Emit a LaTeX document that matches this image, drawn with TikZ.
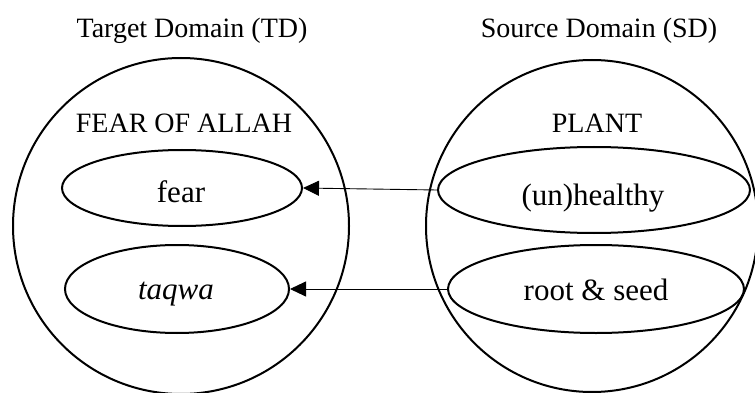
\documentclass[tikz,border=0pt]{standalone}
\usepackage{fontspec}
\setmainfont{Liberation Serif}
\usetikzlibrary{arrows.meta,shapes.geometric}
\begin{document}
\begin{tikzpicture}[x=1pt,y=-1pt,
  txt/.style={font=\fontsize{28}{33}\selectfont,anchor=base,inner sep=0pt},
  ctxt/.style={font=\fontsize{31}{36}\selectfont,anchor=base,inner sep=0pt},
  domcircle/.style={circle,draw,line width=2pt,inner sep=0pt},
  concept/.style={ellipse,draw,line width=2pt,inner sep=0pt},
  mapping/.style={line width=0.9pt,-{Triangle[length=16pt,width=15pt]}}]
\useasboundingbox (0,0) rectangle (755,393);
\clip (0,0) rectangle (755,393);
\fill[white] (0,0) rectangle (755,393);
\node[domcircle,minimum size=336pt] (td) at (181,226) {};
\node[domcircle,minimum size=332pt] (sd) at (592,226) {};
\node[txt] (tdl) at (192,38) {Target Domain (TD)};
\node[txt] (sdl) at (599,38) {Source Domain (SD)};
\node[txt] (fa) at (184,133) {FEAR OF ALLAH};
\node[txt] (pl) at (597,133) {PLANT};
\node[concept,minimum width=240pt,minimum height=76pt] (fear) at (182,188) {};
\node[concept,minimum width=224pt,minimum height=88pt] (taqwa) at (177,289) {};
\node[concept,minimum width=312pt,minimum height=86pt] (health) at (594,190) {};
\node[concept,minimum width=296pt,minimum height=88pt] (root) at (596,289) {};
\node[ctxt] (fearT) at (181,202) {fear};
\node[ctxt] (taqwaT) at (176,299) {\itshape taqwa};
\node[ctxt] (healthT) at (593,205) {(un)healthy};
\node[ctxt] (rootT) at (596,300) {root \& seed};
\draw[mapping] (health.west) -- (fear.east);
\draw[mapping] (root.west) -- (taqwa.east);
\end{tikzpicture}
\end{document}
